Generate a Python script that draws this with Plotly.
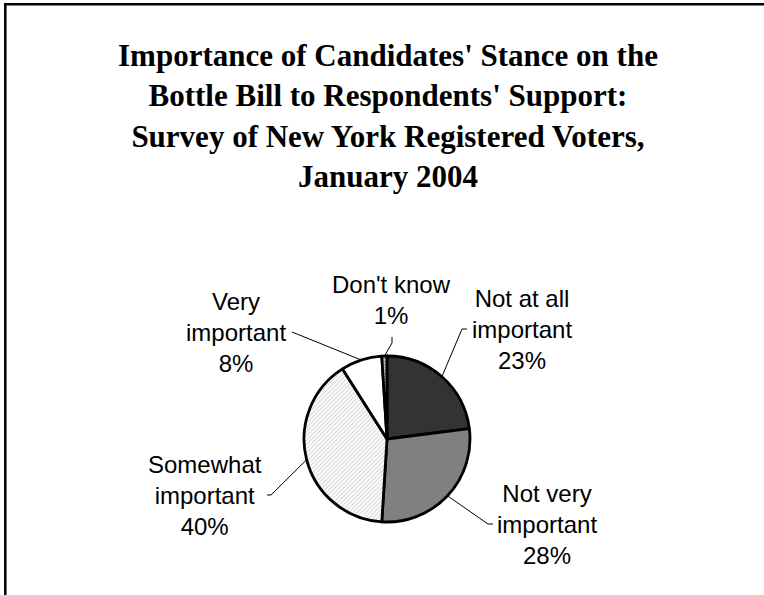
import math
import plotly.graph_objects as go

# Survey responses (percent of registered voters)
categories = ["Not at all important", "Not very important", "Somewhat important",
              "Very important", "Don't know"]
label_lines = [["Not at all", "important"], ["Not very", "important"],
               ["Somewhat", "important"], ["Very", "important"], ["Don't know"]]
percents = [23, 28, 40, 8, 1]

title_lines = ["Importance of Candidates' Stance on the",
               "Bottle Bill to Respondents' Support:",
               "Survey of New York Registered Voters,",
               "January 2004"]

W, H = 764, 595
CX, CY, R = 387, 439, 83          # pie centre and radius in pixels

# slice styling
fills = ["#333333", "#808080", "#ffffff", "#ffffff", "#c8c8c8"]
shapes_fill = ["", "", "/", "", "."]
pattern_fg = ["#000000", "#000000", "#9a9a9a", "#000000", "#000000"]
pattern_size = [8, 8, 3, 8, 3]
pattern_solid = [0.3, 0.3, 0.3, 0.3, 0.4]

# label placement (pixel centre of each text block) and leader-line elbows
label_pos = [(522, 329), (547, 524), (205, 495), (236, 332), (391, 300)]
leader_elbow = [[(462, 329), (467, 329)],
                [(488, 524), (493, 524)],
                [(271, 495), (267, 495)],
                [(296, 333), (292, 332)],
                [(392, 343), (392, 337)]]

fig = go.Figure()

fig.add_trace(go.Pie(
    labels=categories,
    values=percents,
    sort=False,
    direction="clockwise",
    rotation=0,
    textinfo="none",
    hoverinfo="label+percent",
    showlegend=False,
    marker=dict(
        colors=fills,
        line=dict(color="#000000", width=2.8),
        pattern=dict(shape=shapes_fill, fgcolor=pattern_fg, size=pattern_size,
                     solidity=pattern_solid, fillmode="overlay"),
    ),
    domain=dict(x=[(CX - R) / W, (CX + R) / W],
                y=[1 - (CY + R) / H, 1 - (CY - R) / H]),
))

# leader lines start on the rim at each slice's mid-angle
total = sum(percents)
cum = 0
for i, p in enumerate(percents):
    mid = (cum + p / 2) / total * 2 * math.pi
    cum += p
    x0 = CX + R * math.sin(mid)
    y0 = CY - R * math.cos(mid)
    pts = [(x0, y0)] + leader_elbow[i]
    fig.add_trace(go.Scatter(
        x=[q[0] for q in pts], y=[q[1] for q in pts],
        mode="lines", line=dict(color="#000000", width=1),
        hoverinfo="skip", showlegend=False,
    ))

annotations = []
for i, p in enumerate(percents):
    text = "<br>".join(label_lines[i] + [f"{p}%"])
    annotations.append(dict(
        x=label_pos[i][0], y=label_pos[i][1], xref="x", yref="y",
        text=text, showarrow=False, align="center",
        xanchor="center", yanchor="middle",
        font=dict(family="Liberation Sans, Arial, sans-serif", size=24, color="#000000"),
    ))

annotations.append(dict(
    x=388, y=116, xref="x", yref="y",
    text="<b>" + "<br>".join(title_lines) + "</b>",
    showarrow=False, align="center", xanchor="center", yanchor="middle",
    font=dict(family="Liberation Serif, Times New Roman, serif", size=31, color="#000000"),
))

fig.update_layout(
    width=W, height=H,
    margin=dict(l=0, r=0, t=0, b=0),
    paper_bgcolor="#ffffff", plot_bgcolor="rgba(0,0,0,0)",
    xaxis=dict(range=[0, W], visible=False, fixedrange=True),
    yaxis=dict(range=[H, 0], visible=False, fixedrange=True),
    annotations=annotations,
    shapes=[dict(type="rect", xref="x", yref="y", x0=5.3, y0=4.3, x1=W + 20, y1=H + 20,
                 line=dict(color="#000000", width=2.5), fillcolor="rgba(0,0,0,0)")],
)

fig.write_html("out.html")
